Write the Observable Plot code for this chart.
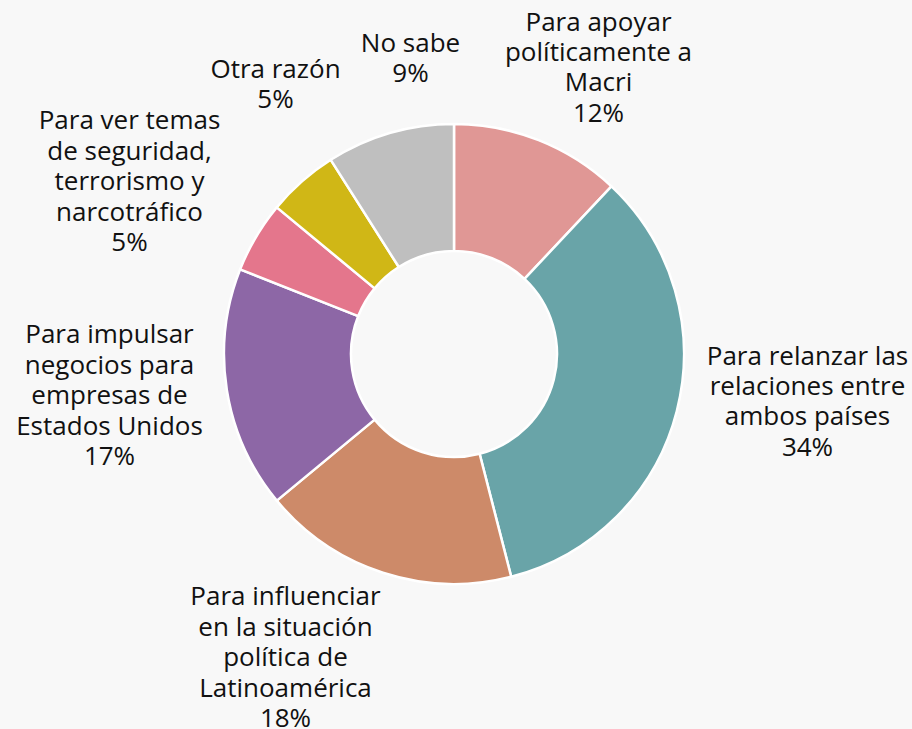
<!DOCTYPE html>
<html><head><meta charset="utf-8">
<script src="https://cdn.jsdelivr.net/npm/d3@7"></script>
<script src="https://cdn.jsdelivr.net/npm/@observablehq/plot@0.6"></script>
<style>
html,body{margin:0;padding:0;background:#f8f8f8;}
#chart svg{display:block;background:#f8f8f8;}
</style>
</head><body><div id="chart"></div>
<script>
const categories = [
  "Para apoyar políticamente a Macri",
  "Para relanzar las relaciones entre ambos países",
  "Para influenciar en la situación política de Latinoamérica",
  "Para impulsar negocios para empresas de Estados Unidos",
  "Para ver temas de seguridad, terrorismo y narcotráfico",
  "Otra razón",
  "No sabe"
];
const values = [12, 34, 18, 17, 5, 5, 9];
const labelLines = [
  "Para apoyar\npolíticamente a\nMacri",
  "Para relanzar las\nrelaciones entre\nambos países",
  "Para influenciar\nen la situación\npolítica de\nLatinoamérica",
  "Para impulsar\nnegocios para\nempresas de\nEstados Unidos",
  "Para ver temas\nde seguridad,\nterrorismo y\nnarcotráfico",
  "Otra razón",
  "No sabe"
];
const colors = ["#e09795", "#69a4a8", "#cd8a69", "#8d67a6", "#e4768c", "#d0b716", "#bfbfbf"];
// label anchor offsets from donut centre (layout)
const labelPos = [[144, -288], [353, 46], [-169, 302], [-345, 40], [-325, -174], [-179, -271], [-44, -297]];

const data = categories.map((c, i) => ({
  category: c, value: values[i],
  label: labelLines[i] + "\n" + values[i] + "%",
  lx: labelPos[i][0], ly: labelPos[i][1]
}));

const outerR = 230, innerR = 103;
const pie = d3.pie().value(d => d.value).sort(null)(data);

function donut(index, scales) {
  const cx = scales.x(0), cy = scales.y(0);
  const ro = Math.abs(scales.x(outerR) - cx), ri = Math.abs(scales.x(innerR) - cx);
  const arc = d3.arc().innerRadius(ri).outerRadius(ro);
  const g = d3.create("svg:g").attr("transform", `translate(${cx},${cy})`);
  g.selectAll("path").data(pie).join("path")
    .attr("d", arc)
    .attr("fill", d => scales.color(d.data.category))
    .attr("stroke", "#ffffff")
    .attr("stroke-width", 2.5)
    .attr("stroke-linejoin", "round");
  return g.node();
}

const chart = Plot.plot({
  width: 912, height: 729, margin: 0,
  style: {background: "#f8f8f8", fontFamily: "'Open Sans', sans-serif"},
  x: {domain: [-454, 458], range: [0, 912], axis: null},
  y: {domain: [-354, 375], range: [0, 729], axis: null},
  color: {domain: categories, range: colors},
  marks: [
    donut,
    Plot.text(data, {
      x: "lx", y: "ly", text: "label",
      textAnchor: "middle", lineAnchor: "middle", lineHeight: 1.17,
      fontSize: 26, fill: "#111"
    })
  ]
});
document.getElementById("chart").append(chart);
</script></body></html>
